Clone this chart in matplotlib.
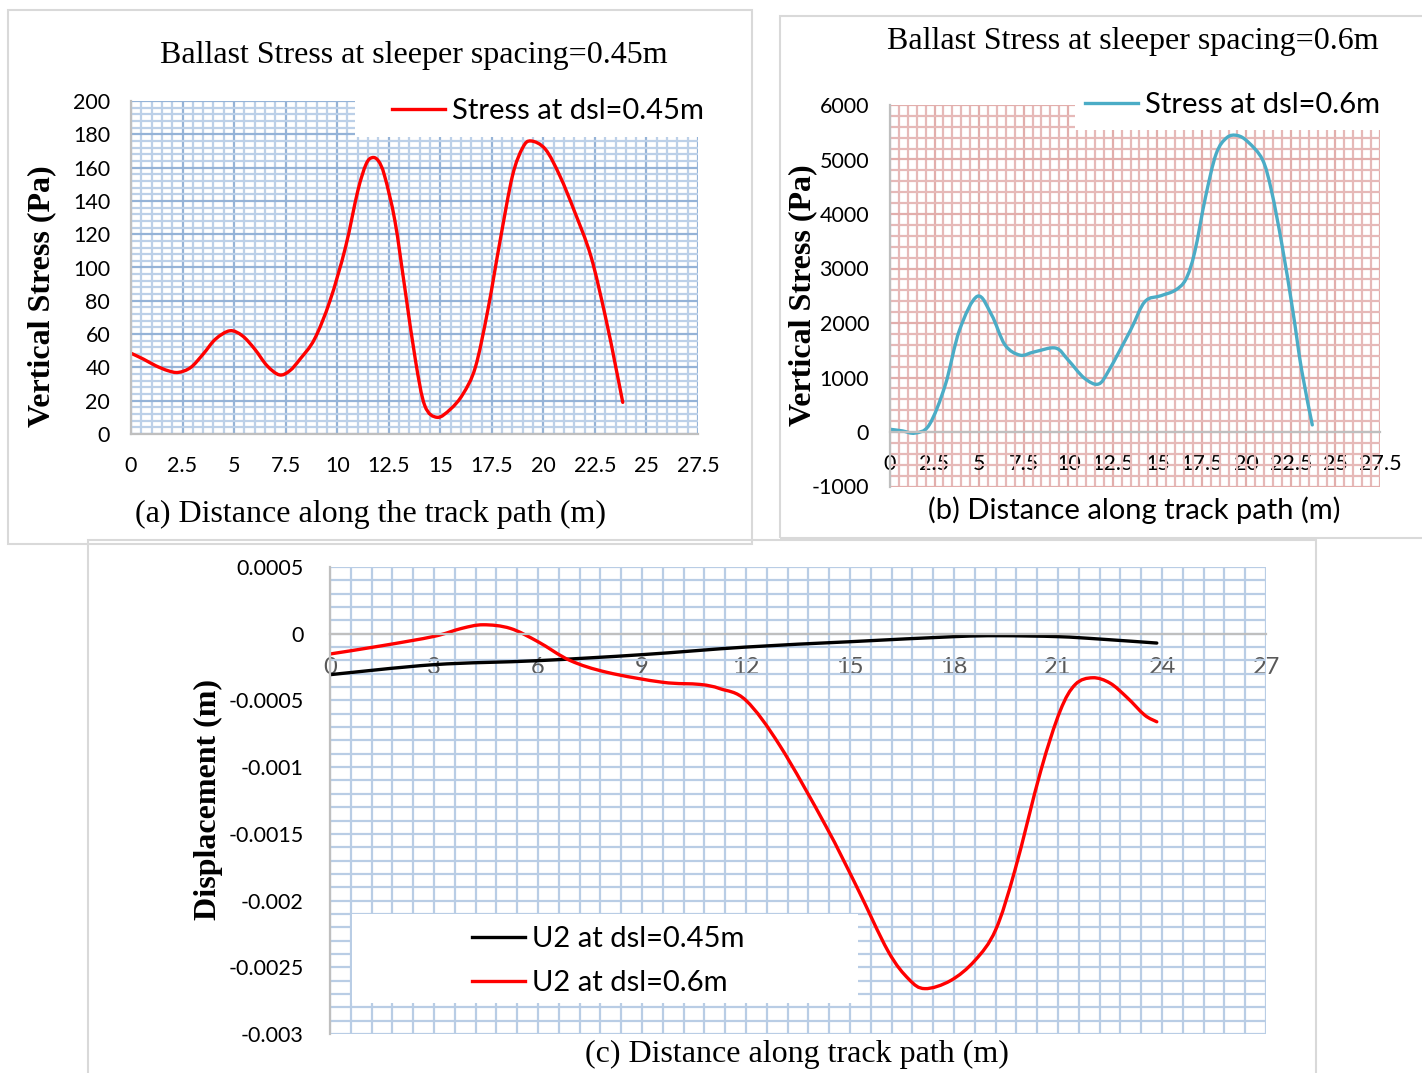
import matplotlib
matplotlib.use("Agg")
import matplotlib.pyplot as plt
import numpy as np
from matplotlib.patches import Rectangle, PathPatch
from matplotlib.path import Path
from matplotlib.ticker import MultipleLocator, FuncFormatter

W, H = 1422, 1073
SERIF = "Liberation Serif"
SANS = "Lato"

# (a) ballast stress, sleeper spacing 0.45 m
dist_a = [0, 0.6, 1.2, 1.8, 2.3, 2.9, 3.5, 4.1, 4.8, 5.4, 6.0, 6.6, 7.2,
          7.7, 8.2, 8.9, 9.65, 10.4, 11.0, 11.4, 11.7, 12.0, 12.3,
          12.8, 13.3, 13.8, 14.25, 14.85, 15.5, 16.1, 16.7, 17.3, 17.9,
          18.5, 19.0, 19.4, 20.1, 20.8, 21.5, 22.3, 23.0, 23.5, 23.85]
stress_a = [48.5, 45, 41, 38, 37, 40, 48, 57, 62, 59, 51, 41, 35.5,
            38, 45, 57, 80, 112, 146, 162, 166, 164, 155,
            128, 86, 44, 17, 10, 15, 24, 40, 74, 116,
            155, 172, 176, 171, 155, 134, 107, 71, 41, 19]

# (b) ballast stress, sleeper spacing 0.6 m
dist_b = [0, 0.7, 1.4, 2.2, 3.1, 3.9, 4.9, 5.7, 6.45, 7.3, 8.1, 9.3, 10.0,
          10.9, 11.7, 12.3, 13.5, 14.3, 15.2, 16.0, 16.6, 17.1, 17.7, 18.3,
          18.9, 19.5, 20.1, 20.9, 21.4, 22.0, 22.6, 23.1, 23.7]
stress_b = [50, 20, -20, 130, 860, 1870, 2490, 2150, 1600, 1410, 1470, 1540,
            1320, 990, 880, 1140, 1870, 2390, 2500, 2600, 2800, 3300, 4300,
            5100, 5400, 5440, 5320, 5000, 4440, 3430, 2240, 1140, 130]

# (c) vertical displacement U2
dist_u45 = [0, 3, 6, 9, 12, 15, 18, 19.3, 21, 22.2, 23.85]
u2_045 = [-0.000307, -0.000232, -0.000202, -0.000157, -0.0001, -0.00006,
          -0.000022, -0.000015, -0.000022, -0.00004, -0.00007]
dist_u60 = [0, 1.5, 3.0, 3.8, 4.42, 5.2, 6.0, 6.92, 8.0, 9.6, 10.67, 11.25,
            12.0, 12.98, 14.3, 15.2, 16.1, 16.7, 17.16, 17.9, 18.6, 19.2,
            19.76, 20.5, 21.06, 21.5, 22.0, 22.5, 23.0, 23.5, 23.85]
u2_060 = [-0.000152, -0.00009, -0.00002, 0.00004, 0.000067, 0.00004,
          -0.00006, -0.0002, -0.00029, -0.000364, -0.00038, -0.000412,
          -0.0005, -0.00084, -0.00144, -0.0019, -0.00238, -0.00259,
          -0.00266, -0.0026, -0.00245, -0.00222, -0.00177, -0.00103,
          -0.00058, -0.00038, -0.00033, -0.00037, -0.00048, -0.00061,
          -0.00066]

plt.rcParams["font.family"] = SANS
TICK_SIZE = 15.5
LEGEND_SIZE = 21
SERIF_SIZE = 23


def frac(x0, y0, x1, y1):
    return [x0 / W, 1 - y1 / H, (x1 - x0) / W, (y1 - y0) / H]


def fmt(v, pos):
    v = round(v, 6)
    if v == 0:
        return "0"
    return f"{v:g}"


def setup(ax, xstep, xminor, ystep, yminor, majc, minc, xcolor="black"):
    ax.set_axisbelow(True)
    ax.xaxis.set_major_locator(MultipleLocator(xstep))
    ax.xaxis.set_minor_locator(MultipleLocator(xminor))
    ax.yaxis.set_major_locator(MultipleLocator(ystep))
    ax.yaxis.set_minor_locator(MultipleLocator(yminor))
    ax.xaxis.set_major_formatter(FuncFormatter(fmt))
    ax.yaxis.set_major_formatter(FuncFormatter(fmt))
    ax.grid(which="major", color=majc, lw=1.6)
    ax.grid(which="minor", color=minc, lw=1.6)
    ax.tick_params(which="both", length=0, labelsize=TICK_SIZE)
    ax.tick_params(axis="x", pad=16, labelcolor=xcolor)
    ax.tick_params(axis="y", pad=15)
    for s in ("top", "right"):
        ax.spines[s].set_visible(False)
    for s in ("left", "bottom"):
        ax.spines[s].set_color("#bfbfbf")
        ax.spines[s].set_linewidth(1.6)


def smooth_line(ax, x, y, color, label):
    # Excel-like smoothed line: cubic Bezier through the points
    pts = np.column_stack([x, y]).astype(float)
    n = len(pts)
    verts = [pts[0]]
    codes = [Path.MOVETO]
    for i in range(n - 1):
        p0 = pts[max(i - 1, 0)]
        p1 = pts[i]
        p2 = pts[i + 1]
        p3 = pts[min(i + 2, n - 1)]
        verts += [p1 + (p2 - p0) / 6, p2 - (p3 - p1) / 6, p2]
        codes += [Path.CURVE4] * 3
    ax.add_patch(PathPatch(Path(verts, codes), facecolor="none",
                           edgecolor=color, lw=2.4, zorder=2,
                           capstyle="round", joinstyle="round"))
    ax.plot([], [], color=color, lw=2.4, label=label)


def cover(ax, x0, y0, x1, y1):
    ax.add_patch(Rectangle((x0 / W, 1 - y1 / H), (x1 - x0) / W, (y1 - y0) / H,
                           transform=fig.transFigure, facecolor="white",
                           edgecolor="none", zorder=1.5, clip_on=False))


def border(x0, y0, x1, y1):
    fig.add_artist(Rectangle((x0 / W, 1 - y1 / H), (x1 - x0) / W, (y1 - y0) / H,
                             transform=fig.transFigure, fill=False,
                             edgecolor="#d9d9d9", lw=1.5))


def legend(ax, x, y, spacing=0.5):
    ax.legend(loc="center left", bbox_to_anchor=(x / W, 1 - y / H),
              bbox_transform=fig.transFigure, frameon=False, borderpad=0,
              borderaxespad=0, handlelength=1.8, handletextpad=0.25,
              labelspacing=spacing, fontsize=LEGEND_SIZE)


fig = plt.figure(figsize=(W / 100, H / 100), dpi=100)
border(8, 10, 752, 544)
border(780, 16, 1430, 538)
border(88, 540, 1316, 1080)

# ---- panel (a)
ax = fig.add_axes(frac(131, 101, 698, 434))
setup(ax, 2.5, 0.5, 20, 4, "#95b3d7", "#bcd0e8")
ax.set_xlim(0, 27.5)
ax.set_ylim(0, 200)
smooth_line(ax, dist_a, stress_a, "#ff0000", "Stress at dsl=0.45m")
cover(ax, 355, 98, 702, 137)
legend(ax, 392, 111)
fig.text(414 / W, 1 - 55 / H, "Ballast Stress at sleeper spacing=0.45m",
         family=SERIF, fontsize=SERIF_SIZE, ha="center", va="center")
fig.text(370 / W, 1 - 514 / H, "(a) Distance along the track path (m)",
         family=SERIF, fontsize=SERIF_SIZE, ha="center", va="center")
fig.text(42 / W, 1 - 296 / H, "Vertical Stress (Pa)", family=SERIF,
         fontsize=SERIF_SIZE, fontweight="bold", rotation=90,
         ha="center", va="center")

# ---- panel (b)
ax = fig.add_axes(frac(890, 105, 1380, 486.5))
setup(ax, 2.5, 0.5, 1000, 200, "#e2aeac", "#e6b9b8")
ax.set_xlim(0, 27.5)
ax.set_ylim(-1000, 6000)
ax.spines["bottom"].set_position(("data", 0))
smooth_line(ax, dist_b, stress_b, "#4bacc6", "Stress at dsl=0.6m")
cover(ax, 1075, 100, 1382, 130)
legend(ax, 1085, 105)
fig.text(1133 / W, 1 - 42 / H, "Ballast Stress at sleeper spacing=0.6m",
         family=SERIF, fontsize=SERIF_SIZE, ha="center", va="center")
fig.text(1134 / W, 1 - 510 / H, "(b) Distance along track path (m)",
         fontsize=LEGEND_SIZE, ha="center", va="center")
fig.text(803 / W, 1 - 295 / H, "Vertical Stress (Pa)", family=SERIF,
         fontsize=SERIF_SIZE, fontweight="bold", rotation=90,
         ha="center", va="center")

# ---- panel (c)
ax = fig.add_axes(frac(330, 567, 1266, 1034))
setup(ax, 3, 0.6, 0.0005, 0.0001, "#b9cde5", "#b9cde5", xcolor="#595959")
ax.set_xlim(0, 27)
ax.set_ylim(-0.003, 0.0005)
ax.spines["bottom"].set_position(("data", 0))
ax.tick_params(axis="y", pad=19)
ax.tick_params(axis="x", labelsize=17, pad=17)
smooth_line(ax, dist_u45, u2_045, "black", "U2 at dsl=0.45m")
smooth_line(ax, dist_u60, u2_060, "#ff0000", "U2 at dsl=0.6m")
cover(ax, 352, 914, 858, 1003)
legend(ax, 472, 961, spacing=0.62)
fig.text(797 / W, 1 - 1054 / H, "(c) Distance along track path (m)",
         family=SERIF, fontsize=SERIF_SIZE, ha="center", va="center")
fig.text(208 / W, 1 - 800 / H, "Displacement (m)", family=SERIF,
         fontsize=SERIF_SIZE, fontweight="bold", rotation=90,
         ha="center", va="center")

fig.savefig("out.png", dpi=100)
